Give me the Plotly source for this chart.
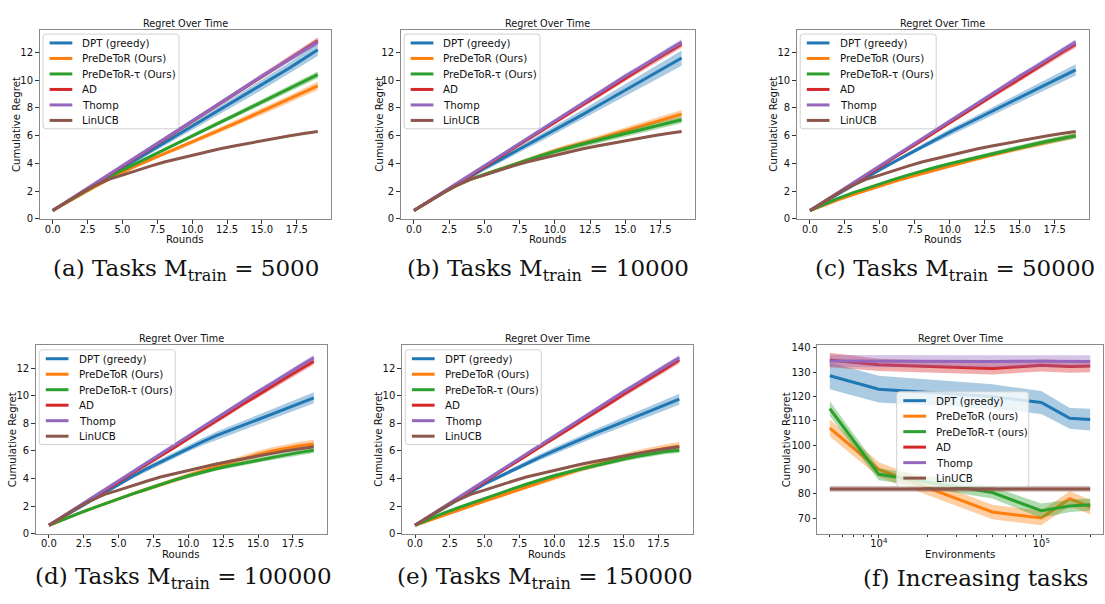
import plotly.graph_objects as go

W, H = 1105, 604

# ---------------- data ----------------
rounds = list(range(20))
x_tick_vals = [0, 2.5, 5, 7.5, 10, 12.5, 15, 17.5]
y_tick_vals = [0, 2, 4, 6, 8, 10, 12]

names = ["DPT (greedy)", "PreDeToR (Ours)", "PreDeToR-τ (Ours)", "AD", "Thomp", "LinUCB"]
names_f = ["DPT (greedy)", "PreDeToR (ours)", "PreDeToR-τ (ours)", "AD", "Thomp", "LinUCB"]
colors = ["#1f77b4", "#ff7f0e", "#2ca02c", "#d62728", "#9467bd", "#8c564b"]

captions = [
    "(a) Tasks M<sub>train</sub> = 5000",
    "(b) Tasks M<sub>train</sub> = 10000",
    "(c) Tasks M<sub>train</sub> = 50000",
    "(d) Tasks M<sub>train</sub> = 100000",
    "(e) Tasks M<sub>train</sub> = 150000",
    "(f) Increasing tasks",
]

# shared baselines
thomp = [0.6, 1.25, 1.9, 2.55, 3.2, 3.85, 4.5, 5.15, 5.8, 6.45, 7.1, 7.75, 8.4, 9.0, 9.65, 10.3, 10.9, 11.55, 12.15, 12.75]
linucb = [0.6, 1.25, 1.85, 2.4, 2.85, 3.15, 3.5, 3.8, 4.1, 4.35, 4.6, 4.85, 5.05, 5.25, 5.45, 5.65, 5.85, 6.0, 6.15, 6.3]

# panel (a) M_train = 5000
dpt_a = [0.6, 1.2, 1.8, 2.4, 3.05, 3.68, 4.28, 4.88, 5.47, 6.06, 6.65, 7.25, 7.85, 8.45, 9.05, 9.65, 10.25, 10.9, 11.55, 12.2]
pre_a = [0.6, 1.18, 1.74, 2.3, 2.85, 3.37, 3.83, 4.27, 4.7, 5.1, 5.52, 5.96, 6.4, 6.85, 7.3, 7.75, 8.2, 8.65, 9.12, 9.6]
tau_a = [0.6, 1.2, 1.8, 2.4, 2.98, 3.52, 4.02, 4.5, 5.0, 5.5, 5.98, 6.48, 6.96, 7.45, 7.94, 8.43, 8.92, 9.41, 9.9, 10.4]
ad_a = [0.6, 1.2, 1.85, 2.5, 3.15, 3.8, 4.45, 5.1, 5.75, 6.4, 7.05, 7.7, 8.35, 9.0, 9.65, 10.3, 10.95, 11.6, 12.25, 12.85]
band_a = [0.45, 0.3, 0.25, 0.25, 0.2, 0.05]

# panel (b) M_train = 10000
dpt_b = [0.6, 1.22, 1.84, 2.45, 3.05, 3.65, 4.2, 4.75, 5.3, 5.85, 6.4, 6.97, 7.54, 8.12, 8.7, 9.28, 9.86, 10.44, 11.02, 11.6]
pre_b = [0.6, 1.25, 1.85, 2.4, 2.85, 3.2, 3.55, 3.9, 4.25, 4.6, 4.9, 5.2, 5.45, 5.75, 6.05, 6.35, 6.65, 6.95, 7.25, 7.55]
tau_b = [0.6, 1.25, 1.85, 2.4, 2.85, 3.2, 3.55, 3.9, 4.25, 4.55, 4.85, 5.15, 5.4, 5.65, 5.9, 6.13, 6.38, 6.63, 6.9, 7.15]
ad_b = [0.6, 1.2, 1.85, 2.5, 3.1, 3.75, 4.4, 5.05, 5.7, 6.3, 6.95, 7.6, 8.25, 8.85, 9.5, 10.15, 10.75, 11.4, 12.0, 12.6]
band_b = [0.55, 0.3, 0.25, 0.25, 0.2, 0.05]

# panel (c) M_train = 50000
dpt_c = [0.6, 1.2, 1.8, 2.4, 2.98, 3.55, 4.1, 4.65, 5.2, 5.73, 6.25, 6.75, 7.25, 7.75, 8.25, 8.75, 9.25, 9.75, 10.25, 10.75]
pre_c = [0.6, 1.0, 1.37, 1.72, 2.05, 2.38, 2.68, 2.97, 3.26, 3.54, 3.82, 4.08, 4.34, 4.6, 4.85, 5.1, 5.33, 5.56, 5.78, 6.0]
tau_c = [0.6, 1.05, 1.47, 1.85, 2.2, 2.55, 2.85, 3.15, 3.45, 3.72, 3.98, 4.22, 4.46, 4.7, 4.93, 5.16, 5.38, 5.6, 5.8, 6.0]
ad_c = [0.6, 1.2, 1.85, 2.5, 3.1, 3.75, 4.4, 5.0, 5.65, 6.3, 6.95, 7.6, 8.2, 8.85, 9.5, 10.1, 10.75, 11.4, 12.0, 12.6]
band_c = [0.4, 0.2, 0.2, 0.25, 0.2, 0.05]

# panel (d) M_train = 100000
dpt_d = [0.6, 1.2, 1.8, 2.4, 3.0, 3.6, 4.15, 4.7, 5.2, 5.7, 6.2, 6.65, 7.1, 7.5, 7.9, 8.28, 8.67, 9.06, 9.45, 9.85]
pre_d = [0.6, 1.02, 1.42, 1.8, 2.17, 2.53, 2.88, 3.22, 3.56, 3.9, 4.22, 4.54, 4.86, 5.17, 5.46, 5.74, 5.99, 6.2, 6.37, 6.5]
tau_d = [0.6, 1.02, 1.42, 1.8, 2.17, 2.53, 2.88, 3.22, 3.56, 3.88, 4.18, 4.45, 4.7, 4.92, 5.13, 5.33, 5.52, 5.71, 5.89, 6.05]
ad_d = [0.6, 1.2, 1.85, 2.5, 3.1, 3.75, 4.4, 5.0, 5.65, 6.25, 6.9, 7.55, 8.15, 8.8, 9.45, 10.05, 10.7, 11.3, 11.9, 12.5]
band_d = [0.4, 0.3, 0.2, 0.25, 0.2, 0.05]

# panel (e) M_train = 150000
dpt_e = [0.6, 1.2, 1.8, 2.4, 3.0, 3.6, 4.1, 4.6, 5.1, 5.55, 6.0, 6.45, 6.88, 7.3, 7.7, 8.1, 8.5, 8.91, 9.33, 9.75]
pre_e = [0.6, 0.96, 1.31, 1.66, 2.01, 2.35, 2.69, 3.03, 3.37, 3.73, 4.08, 4.4, 4.71, 5.0, 5.29, 5.55, 5.8, 6.01, 6.19, 6.35]
tau_e = [0.6, 1.05, 1.46, 1.84, 2.2, 2.55, 2.9, 3.24, 3.58, 3.9, 4.2, 4.46, 4.71, 4.96, 5.2, 5.41, 5.61, 5.8, 5.95, 6.05]
ad_e = [0.6, 1.2, 1.85, 2.5, 3.1, 3.75, 4.4, 5.0, 5.65, 6.3, 6.9, 7.55, 8.2, 8.8, 9.45, 10.1, 10.7, 11.35, 11.95, 12.6]
band_e = [0.4, 0.3, 0.2, 0.25, 0.2, 0.05]

# panel (f) increasing tasks
envs = [5000, 10000, 50000, 100000, 150000, 200000]
dpt_f = [128.5, 123.0, 120.0, 117.5, 111.0, 110.5]
pre_f = [107.0, 90.0, 72.5, 70.0, 78.0, 74.5]
tau_f = [115.0, 88.0, 80.5, 73.0, 75.0, 75.5]
ad_f = [135.0, 133.0, 131.5, 132.8, 132.3, 132.5]
thomp_f = [134.6, 134.5, 134.4, 134.5, 134.5, 134.4]
linucb_f = [82.0, 82.0, 82.0, 82.0, 82.0, 82.0]
dpt_f_sd = [5.5, 5.5, 5.0, 4.7, 4.3, 4.5]
pre_f_sd = [3.5, 3.0, 3.0, 3.0, 3.0, 3.0]
tau_f_sd = [3.0, 2.5, 2.5, 3.0, 2.5, 2.5]
ad_f_sd = [3.0, 2.5, 2.5, 2.5, 2.5, 2.5]
thomp_f_sd = [2.5, 2.5, 2.5, 2.5, 2.5, 2.5]
linucb_f_sd = [1.2, 1.2, 1.2, 1.2, 1.2, 1.2]

# ---------------- layout geometry (pixels) ----------------
panels = [
    dict(series=[dpt_a, pre_a, tau_a, ad_a, thomp, linucb], band=band_a, xd=(39.5, 331), yd=(27, 219), ytx=16.7),
    dict(series=[dpt_b, pre_b, tau_b, ad_b, thomp, linucb], band=band_b, xd=(400.6, 695), yd=(27, 219), ytx=379.3),
    dict(series=[dpt_c, pre_c, tau_c, ad_c, thomp, linucb], band=band_c, xd=(796.7, 1089), yd=(27, 219), ytx=773.3),
    dict(series=[dpt_d, pre_d, tau_d, ad_d, thomp, linucb], band=band_d, xd=(35.7, 327), yd=(347, 538), ytx=12.5),
    dict(series=[dpt_e, pre_e, tau_e, ad_e, thomp, linucb], band=band_e, xd=(401.8, 692.5), yd=(347, 538), ytx=379),
]
f_geom = dict(xd=(817, 1103), yd=(347, 538), ytx=786.7)
caption_pos = [(186, 271), (548, 271), (955, 271), (183, 583), (545, 583), (975, 583)]

FONT = "DejaVu Sans"
TICK_SIZE = 10
AXT_SIZE = 10.2
TITLE_SIZE = 9.7
LEG_SIZE = 10.3
CAP_SIZE = 23


def px_x(p):
    return p / W


def px_y(p):
    return 1 - p / H


def rgba(hex_color, a):
    h = hex_color.lstrip("#")
    r, g, b = int(h[0:2], 16), int(h[2:4], 16), int(h[4:6], 16)
    return f"rgba({r},{g},{b},{a})"


fig = go.Figure()
shapes = []
annotations = []


def text_ann(text, xpx, ypx, size, angle=0, xanchor="center", family=FONT):
    annotations.append(dict(text=text, x=px_x(xpx), y=px_y(ypx), xref="paper", yref="paper",
                            xanchor=xanchor, yanchor="middle", showarrow=False, textangle=angle,
                            font=dict(family=family, size=size, color="#111")))


def add_series(idx, xs, ys, lo, hi, color):
    xa, ya = f"x{idx}", f"y{idx}"
    fig.add_trace(go.Scatter(
        x=list(xs) + list(xs)[::-1], y=list(hi) + list(lo)[::-1],
        fill="toself", fillcolor=rgba(color, 0.38), line=dict(width=0),
        mode="lines", showlegend=False, hoverinfo="skip", xaxis=xa, yaxis=ya))
    fig.add_trace(go.Scatter(
        x=xs, y=ys, mode="lines", line=dict(color=color, width=3),
        showlegend=False, xaxis=xa, yaxis=ya))


def add_legend(left, top, width, labels):
    height = 96
    r = 3
    x0, x1, y0, y1 = left, left + width, top, top + height
    pts = [
        ("M", x0 + r, y0), ("L", x1 - r, y0), ("Q", x1, y0, x1, y0 + r),
        ("L", x1, y1 - r), ("Q", x1, y1, x1 - r, y1), ("L", x0 + r, y1),
        ("Q", x0, y1, x0, y1 - r), ("L", x0, y0 + r), ("Q", x0, y0, x0 + r, y0),
    ]
    path = ""
    for p in pts:
        if p[0] == "Q":
            path += f"Q{px_x(p[1])},{px_y(p[2])} {px_x(p[3])},{px_y(p[4])} "
        else:
            path += f"{p[0]}{px_x(p[1])},{px_y(p[2])} "
    path += "Z"
    shapes.append(dict(type="path", path=path, xref="paper", yref="paper",
                       fillcolor="rgba(255,255,255,0.8)",
                       line=dict(color="#d0d0d0", width=1), layer="above"))
    for k, lab in enumerate(labels):
        cy = top + 9 + 15.7 * k
        shapes.append(dict(type="line", xref="paper", yref="paper",
                           x0=px_x(left + 6.6), x1=px_x(left + 29.3),
                           y0=px_y(cy), y1=px_y(cy),
                           line=dict(color=colors[k], width=3), layer="above"))
        text_ann(lab, left + 37.3, cy, LEG_SIZE, xanchor="left")


axis_common = dict(showgrid=False, zeroline=False, showline=True, mirror=True,
                   linecolor="#8a8a8a", linewidth=1, ticks="outside", ticklen=3.5,
                   tickwidth=0.8, tickcolor="#333",
                   tickfont=dict(family=FONT, size=TICK_SIZE, color="#111"))
layout_axes = {}


def decorate(p, xlabel):
    cx = (p["xd"][0] + p["xd"][1]) / 2
    cy = (p["yd"][0] + p["yd"][1]) / 2
    text_ann("Regret Over Time", cx, p["yd"][0] - 6.5, TITLE_SIZE)
    text_ann(xlabel, cx, p["yd"][1] + 21, AXT_SIZE)
    text_ann("Cumulative Regret", p["ytx"], cy, AXT_SIZE, angle=-90)


for i, p in enumerate(panels):
    idx = i + 1
    for k, ys in enumerate(p["series"]):
        base, last = ys[0], ys[-1]
        hw = [p["band"][k] * (v - base) / (last - base) for v in ys]
        lo = [v - h for v, h in zip(ys, hw)]
        hi = [v + h for v, h in zip(ys, hw)]
        add_series(idx, rounds, ys, lo, hi, colors[k])
    sfx = "" if idx == 1 else str(idx)
    layout_axes[f"xaxis{sfx}"] = dict(
        axis_common, domain=[px_x(p["xd"][0]), px_x(p["xd"][1])], anchor=f"y{idx}",
        range=[-0.95, 19.95], tickvals=x_tick_vals, tickformat=".1f", ticklabelstandoff=-3)
    layout_axes[f"yaxis{sfx}"] = dict(
        axis_common, domain=[px_y(p["yd"][1]), px_y(p["yd"][0])], anchor=f"x{idx}",
        range=[-0.02, 13.65], tickvals=y_tick_vals)
    decorate(p, "Rounds")
    add_legend(p["xd"][0] + 3.5, p["yd"][0] + 4.5, 136, names)

# panel (f)
f_series = [dpt_f, pre_f, tau_f, ad_f, thomp_f, linucb_f]
f_sds = [dpt_f_sd, pre_f_sd, tau_f_sd, ad_f_sd, thomp_f_sd, linucb_f_sd]
for k, (ys, sd) in enumerate(zip(f_series, f_sds)):
    lo = [v - s for v, s in zip(ys, sd)]
    hi = [v + s for v, s in zip(ys, sd)]
    add_series(6, envs, ys, lo, hi, colors[k])

minor_vals = [5000, 6000, 7000, 8000, 9000, 20000, 30000, 40000, 50000, 60000,
              70000, 80000, 90000, 200000]
layout_axes["xaxis6"] = dict(
    axis_common, domain=[px_x(f_geom["xd"][0]), px_x(f_geom["xd"][1])], anchor="y6",
    type="log", range=[3.62, 5.38], tickvals=[1e4, 1e5],
    ticktext=["10<sup>4</sup>", "10<sup>5</sup>"], ticklabelstandoff=-3,
    minor=dict(tickvals=minor_vals, ticks="outside", ticklen=2, tickcolor="#333", tickwidth=0.6))
layout_axes["yaxis6"] = dict(
    axis_common, domain=[px_y(f_geom["yd"][1]), px_y(f_geom["yd"][0])], anchor="x6",
    range=[63.5, 141], tickvals=[70, 80, 90, 100, 110, 120, 130, 140])
decorate(f_geom, "Environments")
add_legend(896.7, 394, 132, names_f)

# captions
for (cx, cy), txt in zip(caption_pos, captions):
    text_ann(txt, cx, cy, CAP_SIZE, family="DejaVu Serif")

fig.update_layout(
    width=W, height=H, margin=dict(l=0, r=0, t=0, b=0),
    paper_bgcolor="white", plot_bgcolor="white",
    showlegend=False, shapes=shapes, annotations=annotations,
    **layout_axes)

fig.write_html("out.html")
